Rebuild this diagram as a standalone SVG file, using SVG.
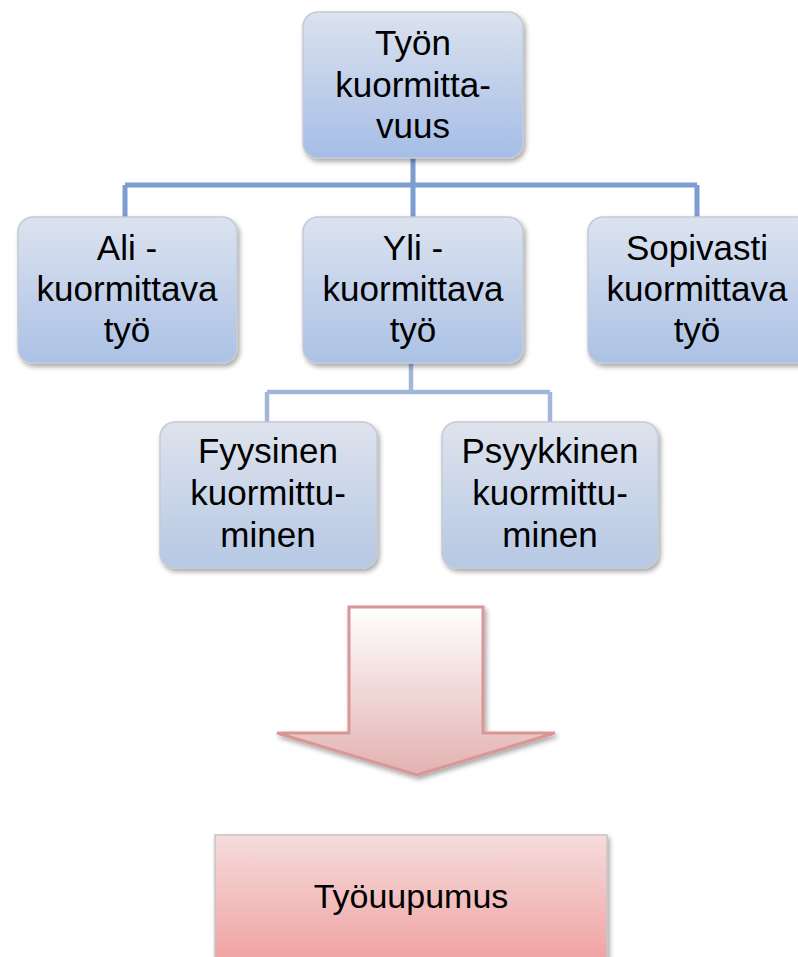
<svg xmlns="http://www.w3.org/2000/svg" width="798" height="957" viewBox="0 0 798 957">
<defs>
<linearGradient id="gTop" x1="0" y1="0" x2="0" y2="1"><stop offset="0" stop-color="#dbe2ef"/><stop offset="1" stop-color="#a5bde6"/></linearGradient>
<linearGradient id="gMid" x1="0" y1="0" x2="0" y2="1"><stop offset="0" stop-color="#dce3ef"/><stop offset="1" stop-color="#abc1e5"/></linearGradient>
<linearGradient id="gLow" x1="0" y1="0" x2="0" y2="1"><stop offset="0" stop-color="#dee3ed"/><stop offset="1" stop-color="#b6c8e4"/></linearGradient>
<linearGradient id="gArrow" x1="0" y1="0" x2="0" y2="1"><stop offset="0" stop-color="#ffffff"/><stop offset="1" stop-color="#e3b1b1"/></linearGradient>
<linearGradient id="gRed" x1="0" y1="0" x2="0" y2="1"><stop offset="0" stop-color="#f5dcdc"/><stop offset="1" stop-color="#f09c9c"/></linearGradient>
<filter id="sh" x="-10%" y="-10%" width="125%" height="125%"><feDropShadow dx="2" dy="3" stdDeviation="2.5" flood-color="#000" flood-opacity="0.35"/></filter>
</defs>
<style>
.box{stroke:#c3cad6;stroke-width:1.5;filter:url(#sh)}
.t{font-family:"Liberation Sans",Arial,sans-serif;font-size:35px;fill:#000;text-anchor:middle}
.c1{fill:none;stroke:#7d9ccf;stroke-width:5}
.c2{fill:none;stroke:#a2b6da;stroke-width:4.5}
</style>
<rect width="798" height="957" fill="#fff"/>
<g id="connectors">
<path class="c1" d="M413 158 V185 M125 185 H697 M125 185 V218 M413 185 V218 M697 185 V218"/>
<path class="c2" d="M411 362 V392 M267 392 H550 M267 392 V423 M550 392 V423"/>
</g>
<g id="n-tyon">
<rect class="box" x="303" y="12" width="220" height="146" rx="15" fill="url(#gTop)"/>
<text class="t" x="413" y="55">Työn</text>
<text class="t" x="413" y="97">kuormitta-</text>
<text class="t" x="413" y="138">vuus</text>
</g>
<g id="n-ali">
<rect class="box" x="18" y="217" width="219" height="146" rx="15" fill="url(#gMid)"/>
<text class="t" x="127" y="260">Ali -</text>
<text class="t" x="127" y="301">kuormittava</text>
<text class="t" x="127" y="342">työ</text>
</g>
<g id="n-yli">
<rect class="box" x="303" y="217" width="220" height="146" rx="15" fill="url(#gMid)"/>
<text class="t" x="413" y="260">Yli -</text>
<text class="t" x="413" y="301">kuormittava</text>
<text class="t" x="413" y="342">työ</text>
</g>
<g id="n-sopivasti">
<rect class="box" x="588" y="217" width="225" height="146" rx="15" fill="url(#gMid)"/>
<text class="t" x="697" y="260">Sopivasti</text>
<text class="t" x="697" y="301">kuormittava</text>
<text class="t" x="697" y="342">työ</text>
</g>
<g id="n-fyysinen">
<rect class="box" x="160" y="422" width="217" height="146" rx="15" fill="url(#gLow)"/>
<text class="t" x="268" y="463">Fyysinen</text>
<text class="t" x="268" y="505">kuormittu-</text>
<text class="t" x="268" y="547">minen</text>
</g>
<g id="n-psyykkinen">
<rect class="box" x="442" y="422" width="216" height="146" rx="15" fill="url(#gLow)"/>
<text class="t" x="550" y="463">Psyykkinen</text>
<text class="t" x="550" y="505">kuormittu-</text>
<text class="t" x="550" y="547">minen</text>
</g>
<g id="arrow">
<path d="M349 607 H483 V733 H555 L417 775 L277 733 H349 Z" fill="url(#gArrow)" stroke="#d99696" stroke-width="3" stroke-linejoin="miter" filter="url(#sh)"/>
</g>
<g id="n-tyouupumus">
<rect x="215" y="835" width="392" height="140" fill="url(#gRed)" stroke="#c8c4c4" stroke-width="1.5" filter="url(#sh)"/>
<text class="t" x="411" y="908" style="font-size:34px">Työuupumus</text>
</g>
</svg>
